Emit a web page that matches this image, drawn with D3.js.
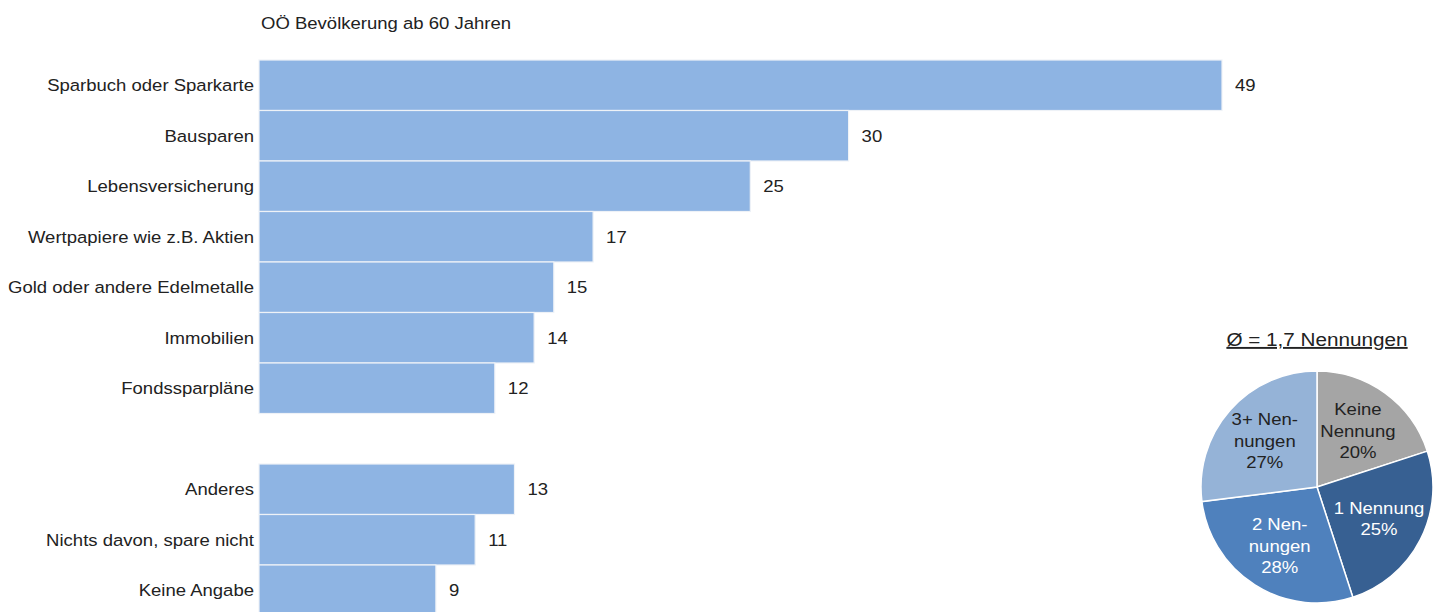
<!DOCTYPE html>
<html>
<head>
<meta charset="utf-8">
<script src="https://cdn.jsdelivr.net/npm/d3@7"></script>
<style>
  html, body { margin: 0; padding: 0; background: #fff; }
  svg { display: block; font-family: "Liberation Sans", Arial, sans-serif; }
</style>
</head>
<body>
<svg id="chart" width="1441" height="612"></svg>
<script>
// Sparformen, Angaben in Prozent
const chartTitle = "OÖ Bevölkerung ab 60 Jahren";
const mainCategories = ["Sparbuch oder Sparkarte", "Bausparen", "Lebensversicherung",
  "Wertpapiere wie z.B. Aktien", "Gold oder andere Edelmetalle", "Immobilien", "Fondssparpläne"];
const mainValues = [49, 30, 25, 17, 15, 14, 12];
const otherCategories = ["Anderes", "Nichts davon, spare nicht", "Keine Angabe"];
const otherValues = [13, 11, 9];

// Anzahl der Nennungen
const pieTitle = "Ø = 1,7 Nennungen";
const pieLabels = [["Keine", "Nennung"], ["1 Nennung"], ["2 Nen-", "nungen"], ["3+ Nen-", "nungen"]];
const pieValues = [20, 25, 28, 27];
const pieColors = ["#A5A5A5", "#376092", "#4F81BD", "#95B3D7"];
const pieTextColors = ["#222", "#fff", "#fff", "#222"];

const svg = d3.select("#chart");
const GAP = "__gap";
const SX = 1.09;           // slightly widened lettering
const FS = 17;

const place = (px, py) => `translate(${px},${py}) scale(${SX},1)`;

const rows = [
  ...mainCategories.map((c, i) => ({ cat: c, value: mainValues[i] })),
  { cat: GAP, value: null },
  ...otherCategories.map((c, i) => ({ cat: c, value: otherValues[i] }))
];

const x = d3.scaleLinear().domain([0, 49]).range([259, 1222]);
const y = d3.scaleBand().domain(rows.map(r => r.cat)).range([60, 615.5]).padding(0);

svg.append("text")
  .attr("transform", place(261, 29))
  .attr("font-size", FS).attr("fill", "#222")
  .text(chartTitle);

const bars = rows.filter(r => r.value !== null);

svg.append("g").selectAll("rect")
  .data(bars).join("rect")
  .attr("x", x(0))
  .attr("y", d => y(d.cat))
  .attr("width", d => x(d.value) - x(0))
  .attr("height", y.bandwidth())
  .attr("fill", "#8EB4E3")
  .attr("stroke", "#EEF2F7")
  .attr("stroke-width", 1.2);

svg.append("g").selectAll("text.cat")
  .data(bars).join("text")
  .attr("class", "cat")
  .attr("transform", d => place(254, y(d.cat) + y.bandwidth() / 2))
  .attr("dy", "0.35em")
  .attr("text-anchor", "end")
  .attr("font-size", FS).attr("fill", "#222")
  .text(d => d.cat);

svg.append("g").selectAll("text.val")
  .data(bars).join("text")
  .attr("class", "val")
  .attr("transform", d => place(x(d.value) + 13, y(d.cat) + y.bandwidth() / 2))
  .attr("dy", "0.35em")
  .attr("font-size", FS).attr("fill", "#222")
  .text(d => d.value);

// Kreisdiagramm
const cx = 1317, cy = 487, r = 116;
const pie = d3.pie().sort(null).value(d => d)(pieValues);
const arc = d3.arc().innerRadius(0).outerRadius(r);
const labelArc = d3.arc().innerRadius(r * 0.6).outerRadius(r * 0.6);

const pg = svg.append("g").attr("transform", `translate(${cx},${cy})`);
pg.selectAll("path").data(pie).join("path")
  .attr("d", arc)
  .attr("fill", (d, i) => pieColors[i])
  .attr("stroke", "#fff").attr("stroke-width", 1.5);

pg.selectAll("text").data(pie).join("text")
  .attr("transform", d => place(...labelArc.centroid(d)))
  .attr("text-anchor", "middle")
  .attr("font-size", FS)
  .attr("fill", (d, i) => pieTextColors[i])
  .each(function (d, i) {
    const lines = [...pieLabels[i], pieValues[i] + "%"];
    const t = d3.select(this);
    const lh = 21.5;
    const start = -(lines.length - 1) / 2 * lh;
    lines.forEach((ln, k) => {
      t.append("tspan").attr("x", 0).attr("y", start + k * lh).attr("dy", "0.35em").text(ln);
    });
  });

svg.append("text")
  .attr("transform", place(cx, 346))
  .attr("text-anchor", "middle")
  .attr("font-size", 19).attr("fill", "#222")
  .attr("text-decoration", "underline")
  .text(pieTitle);
</script>
</body>
</html>
